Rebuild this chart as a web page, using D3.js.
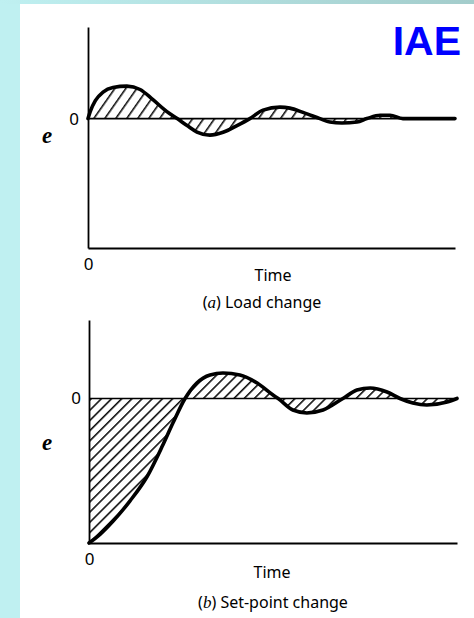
<!DOCTYPE html>
<html>
<head>
<meta charset="utf-8">
<script src="https://cdn.jsdelivr.net/npm/d3@7/dist/d3.min.js"></script>
<style>
  html, body { margin: 0; padding: 0; background: #ffffff; }
  svg { display: block; }
</style>
</head>
<body>
<script>
// ---------- data ----------
// (a) Load change: time (0-100) and error e
const timeA = [0, 0.6, 2.0, 4.1, 6.8, 10.6, 14.2, 17.7, 21.5, 24.3, 27.0, 29.7, 33.2, 36.8, 40.6, 44.1, 47.7, 52.3, 55.0, 58.6, 63.2, 65.9, 69.2, 73.3, 76.0, 79.6, 82.3, 85.8, 92, 100];
const errA  = [0, 0.07, 0.18, 0.265, 0.312, 0.326, 0.292, 0.19, 0.07, 0, -0.07, -0.135, -0.166, -0.138, -0.07, 0, 0.085, 0.115, 0.105, 0.062, 0, -0.035, -0.045, -0.035, 0, 0.033, 0.033, 0, 0, 0];
// (b) Set-point change
const timeB = [0, 3.0, 6.5, 11.1, 15.8, 20.1, 22.8, 26.1, 29.3, 32.9, 36.4, 41.0, 45.7, 50.0, 51.4, 55.4, 59.2, 63.6, 69.0, 72.8, 76.4, 81.0, 84.5, 88.0, 91.8, 97.3, 100];
const errB  = [-1, -0.94, -0.85, -0.71, -0.54, -0.32, -0.17, 0, 0.107, 0.163, 0.176, 0.163, 0.107, 0.024, 0, -0.080, -0.100, -0.080, 0, 0.059, 0.073, 0.045, 0, -0.031, -0.045, -0.024, 0];

const yTickLabels = ["0"];
const xTickLabels = ["0"];
const axisTitle = "Time";
const yTitle = "e";
const captionA = ["(", "a", ") Load change"];
const captionB = ["(", "b", ") Set-point change"];
const badge = "IAE";

// ---------- page ----------
const W = 474, H = 618;
const svg = d3.select("body").append("svg").attr("width", W).attr("height", H);

const defs = svg.append("defs");
const grad = defs.append("linearGradient").attr("id", "topband").attr("x1", "0").attr("x2", "1");
grad.append("stop").attr("offset", "0").attr("stop-color", "#bff0f1");
grad.append("stop").attr("offset", "1").attr("stop-color", "#a3cccb");

svg.append("rect").attr("width", W).attr("height", H).attr("fill", "#ffffff");
svg.append("rect").attr("x", 0).attr("y", 0).attr("width", 20).attr("height", H).attr("fill", "#bff0f1");
svg.append("rect").attr("x", 0).attr("y", 0).attr("width", W).attr("height", 4).attr("fill", "url(#topband)");

function hatch(id, angle, spacing) {
  const p = defs.append("pattern").attr("id", id)
    .attr("patternUnits", "userSpaceOnUse")
    .attr("width", spacing).attr("height", spacing)
    .attr("patternTransform", `rotate(${angle})`);
  p.append("line").attr("x1", 0.8).attr("y1", 0).attr("x2", 0.8).attr("y2", spacing)
    .attr("stroke", "#000").attr("stroke-width", 1.5);
}
hatch("hatchA", 35, 9);
hatch("hatchB", 45, 7.2);

function panel(cfg) {
  const x = d3.scaleLinear().domain([0, 100]).range([cfg.x0, cfg.x1]);
  const y = d3.scaleLinear().domain(cfg.yDomain).range([cfg.yBottom, cfg.yTop]);
  const g = svg.append("g");
  const data = cfg.t.map((t, i) => ({ t, e: cfg.e[i] }));
  const curve = d3.curveMonotoneX;

  // hatched area between curve and zero
  g.append("path").datum(data)
    .attr("d", d3.area().x(d => x(d.t)).y0(y(0)).y1(d => y(d.e)).curve(curve))
    .attr("fill", `url(#${cfg.hatch})`).attr("stroke", "none");

  // zero line
  g.append("line").attr("x1", x(0)).attr("x2", x(100)).attr("y1", y(0)).attr("y2", y(0))
    .attr("stroke", "#000").attr("stroke-width", 1.6);

  // axes
  const yAxis = d3.axisLeft(y).tickValues([0]).tickSize(0).tickSizeOuter(0)
    .tickPadding(cfg.yPad).tickFormat((d, i) => yTickLabels[i]);
  const ya = g.append("g").attr("transform", `translate(${x(0)},0)`).call(yAxis);
  const xAxis = d3.axisBottom(x).tickValues([0]).tickSize(0).tickSizeOuter(0)
    .tickPadding(10).tickFormat((d, i) => xTickLabels[i]);
  const xa = g.append("g").attr("transform", `translate(0,${cfg.yBottom})`).call(xAxis);
  [ya, xa].forEach(a => {
    a.select(".domain").attr("stroke", "#000").attr("stroke-width", 1.8);
    a.selectAll("text").attr("font-family", "'Noto Sans', sans-serif").attr("font-size", 17).attr("fill", "#000");
  });

  // curve
  g.append("path").datum(data)
    .attr("d", d3.line().x(d => x(d.t)).y(d => y(d.e)).curve(curve))
    .attr("fill", "none").attr("stroke", "#000").attr("stroke-width", 3.6)
    .attr("stroke-linejoin", "round").attr("stroke-linecap", "round");

  // labels
  g.append("text").attr("x", 47).attr("y", cfg.eY).attr("text-anchor", "middle")
    .attr("font-family", "'Liberation Serif', serif").attr("font-style", "italic").attr("font-weight", "bold")
    .attr("font-size", 23).text(yTitle);
  g.append("text").attr("x", cfg.timeX).attr("y", cfg.timeY).attr("text-anchor", "middle")
    .attr("font-family", "'Noto Sans', sans-serif").attr("font-size", 16).text(axisTitle);
  const cap = g.append("text").attr("x", cfg.capX).attr("y", cfg.capY).attr("text-anchor", "middle")
    .attr("font-family", "'Noto Sans', sans-serif").attr("font-size", 16);
  cap.append("tspan").text(cfg.caption[0]);
  cap.append("tspan").attr("font-style", "italic").attr("font-family", "'Liberation Serif', serif").attr("font-size", 17).text(cfg.caption[1]);
  cap.append("tspan").text(cfg.caption[2]);
}

panel({ t: timeA, e: errA, x0: 88, x1: 455, yTop: 27, yBottom: 248, yDomain: [-1.3, 0.92],
  hatch: "hatchA", yPad: 9, eY: 143, timeX: 273, timeY: 281, capX: 262, capY: 308, caption: captionA });
panel({ t: timeB, e: errB, x0: 89, x1: 457, yTop: 320, yBottom: 543, yDomain: [-1, 0.543],
  hatch: "hatchB", yPad: 8, eY: 450, timeX: 272, timeY: 578, capX: 273, capY: 608, caption: captionB });

svg.append("text").attr("x", 461).attr("y", 55).attr("text-anchor", "end")
  .attr("font-family", "'Liberation Sans', Arial, sans-serif").attr("font-weight", "bold")
  .attr("font-size", 41).attr("fill", "#0000ff").text(badge);
</script>
</body>
</html>
